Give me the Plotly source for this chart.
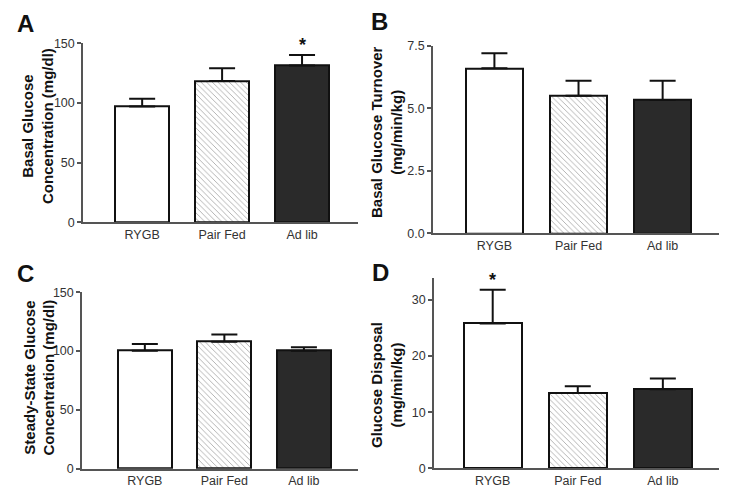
import plotly.graph_objects as go

groups = ["RYGB", "Pair Fed", "Ad lib"]

basal_glucose = [97, 118.5, 131.5]
basal_glucose_err = [6.5, 10.5, 8.7]

basal_turnover = [6.6, 5.5, 5.33]
basal_turnover_err = [0.6, 0.6, 0.77]

steady_glucose = [100.3, 108, 100.4]
steady_glucose_err = [5.8, 6.2, 2.8]

glucose_disposal = [25.8, 13.4, 14.1]
glucose_disposal_err = [6.0, 1.2, 1.9]

OFF = 8  # page body margin
W, H = 729 - OFF, 494 - OFF

def px_x(p):
    return (p - OFF) / W

def px_y(p):
    return 1 - (p - OFF) / H

panels = [
    dict(letter="A", vals=basal_glucose, err=basal_glucose_err,
         xd=[px_x(83), px_x(358)], yd=[px_y(222.3), px_y(43.3)],
         xr=[-0.74, 2.70], yr=[0, 150], tickvals=[0, 50, 100, 150], ticktext=["0", "50", "100", "150"],
         title="Basal Glucose<br>Concentration (mg/dl)", tx=37, ty=126, lx=25, ly=24, star=2),
    dict(letter="B", vals=basal_turnover, err=basal_turnover_err,
         xd=[px_x(433), px_x(719)], yd=[px_y(233.3), px_y(45.7)],
         xr=[-0.73, 2.67], yr=[0, 7.5], tickvals=[0, 2.5, 5, 7.5], ticktext=["0.0", "2.5", "5.0", "7.5"],
         title="Basal Glucose Turnover<br>(mg/min/kg)", tx=387, ty=132, lx=379, ly=22, star=None),
    dict(letter="C", vals=steady_glucose, err=steady_glucose_err,
         xd=[px_x(82), px_x(358)], yd=[px_y(468.7), px_y(292.3)],
         xr=[-0.79, 2.68], yr=[0, 150], tickvals=[0, 50, 100, 150], ticktext=["0", "50", "100", "150"],
         title="Steady-State Glucose<br>Concentration (mg/dl)", tx=38.5, ty=378, lx=25, ly=273, star=None),
    dict(letter="D", vals=glucose_disposal, err=glucose_disposal_err,
         xd=[px_x(434), px_x(719)], yd=[px_y(468.3), px_y(278)],
         xr=[-0.69, 2.66], yr=[0, 33.9], tickvals=[0, 10, 20, 30], ticktext=["0", "10", "20", "30"],
         title="Glucose Disposal<br>(mg/min/kg)", tx=386, ty=385, lx=380, ly=272, star=0),
]

fig = go.Figure()
annotations = []
layout_axes = {}

for i, p in enumerate(panels):
    n = "" if i == 0 else str(i + 1)
    xa, ya = "x" + n, "y" + n
    fig.add_trace(go.Bar(
        x=[0, 1, 2], y=p["vals"], width=0.68,
        xaxis=xa, yaxis=ya,
        marker=dict(
            color=["white", "white", "#2a2a2a"],
            line=dict(color="#111111", width=2),
            pattern=dict(shape=["", "\\", ""], fgcolor="#b0b0b0", bgcolor="white",
                         size=4, solidity=0.2, fillmode="overlay"),
        ),
        error_y=dict(type="data", symmetric=False, array=p["err"], arrayminus=[0, 0, 0],
                     color="#111111", thickness=2, width=13),
        showlegend=False, hoverinfo="skip",
    ))
    layout_axes["xaxis" + n] = dict(
        domain=p["xd"], range=p["xr"], anchor=ya, automargin=False,
        tickvals=[0, 1, 2], ticktext=groups, ticks="", showline=True,
        linecolor="#555555", linewidth=1.5, showgrid=False, zeroline=False,
        tickfont=dict(family="Liberation Sans, Arial", size=12.5, color="#333333"),
        fixedrange=True,
    )
    layout_axes["yaxis" + n] = dict(
        domain=p["yd"], range=p["yr"], anchor=xa, automargin=False,
        tickvals=p["tickvals"], ticktext=p["ticktext"], ticks="outside", ticklen=4,
        tickcolor="#555555", tickwidth=1.5, showline=True,
        linecolor="#555555", linewidth=1.5, showgrid=False, zeroline=False,
        tickfont=dict(family="Liberation Sans, Arial", size=12.5, color="#333333"),
        fixedrange=True,
    )
    title_html = "<b>" + p["title"].replace("<br>", "</b><br><b>") + "</b>"
    annotations.append(dict(
        text=title_html, xref="paper", yref="paper", x=px_x(p["tx"]), y=px_y(p["ty"]),
        xanchor="center", yanchor="middle", textangle=-90, showarrow=False,
        font=dict(family="Liberation Sans, Arial", size=15, color="#111111"),
    ))
    annotations.append(dict(
        text="<b>%s</b>" % p["letter"], xref="paper", yref="paper", x=px_x(p["lx"]), y=px_y(p["ly"]),
        xanchor="center", yanchor="middle", showarrow=False,
        font=dict(family="Liberation Sans, Arial", size=24, color="#111111"),
    ))
    if p["star"] is not None:
        k = p["star"]
        annotations.append(dict(
            text="<b>*</b>", xref=xa, yref=ya, x=k, y=p["vals"][k] + p["err"][k],
            xanchor="center", yanchor="bottom", yshift=-2, showarrow=False,
            font=dict(family="Liberation Sans, Arial", size=18, color="#111111"),
        ))

fig.update_layout(
    width=W, height=H, margin=dict(l=0, r=0, t=0, b=0, autoexpand=False),
    paper_bgcolor="white", plot_bgcolor="white",
    annotations=annotations, bargap=0,
    **layout_axes,
)

fig.write_html("out.html")
